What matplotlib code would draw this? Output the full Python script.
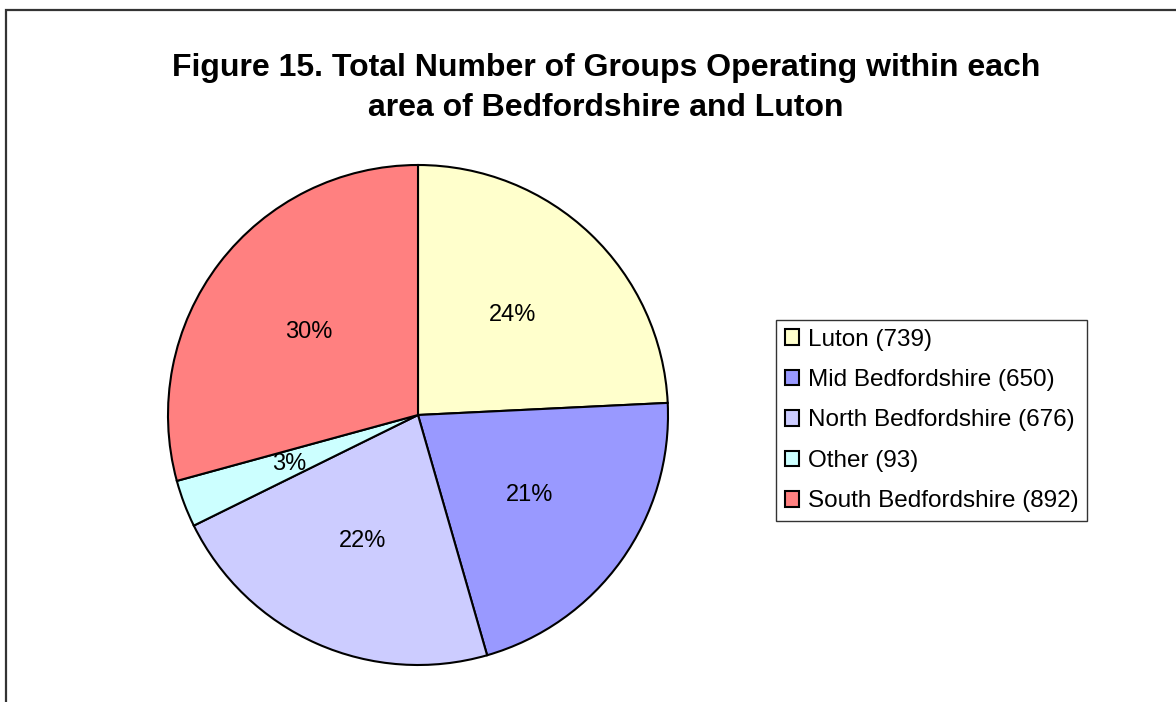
import matplotlib
matplotlib.use('Agg')
import matplotlib.pyplot as plt
from matplotlib.patches import Rectangle

# values
areas = ['Luton', 'Mid Bedfordshire', 'North Bedfordshire', 'Other', 'South Bedfordshire']
groups = [739, 650, 676, 93, 892]
pct_labels = ['24%', '21%', '22%', '3%', '30%']  # as printed on the slices
colors = ['#FFFFCC', '#9999FF', '#CCCCFF', '#CCFFFF', '#FF8080']

plt.rcParams['font.family'] = ['Liberation Sans', 'DejaVu Sans']

W, H = 1176, 702
fig = plt.figure(figsize=(W / 100, H / 100), dpi=100)

# outer frame (runs off the right and bottom edges)
fig.patches.append(Rectangle((6 / W, -0.1), 1.2, 1 - 10 / H + 0.1, transform=fig.transFigure,
                             fill=False, edgecolor='#333333', linewidth=1.6))

# pie axes: centre (418, 415) px, radius 250 px
cx, cy, r = 418, 415, 250
ax = fig.add_axes([(cx - r) / W, (H - cy - r) / H, 2 * r / W, 2 * r / H])

it = iter(pct_labels)
wedges, texts, autotexts = ax.pie(groups, colors=colors, startangle=90, counterclock=False,
                                  autopct=lambda p: next(it), pctdistance=0.55,
                                  wedgeprops=dict(edgecolor='black', linewidth=1.5),
                                  textprops=dict(fontsize=17, color='black'))
ax.set_xlim(-1, 1)
ax.set_ylim(-1, 1)
ax.set_aspect('equal')

fig.text(606 / W, 1 - 68 / H, 'Figure 15. Total Number of Groups Operating within each',
         ha='center', va='center', fontsize=23, fontweight='bold')
fig.text(606 / W, 1 - 108 / H, 'area of Bedfordshire and Luton',
         ha='center', va='center', fontsize=23, fontweight='bold')

leg_labels = [f'{a} ({g})' for a, g in zip(areas, groups)]
leg = fig.legend(wedges, leg_labels, loc='upper left', bbox_to_anchor=(776 / W, 1 - 320 / H),
                 frameon=True, fancybox=False, edgecolor='black', fontsize=17.5,
                 borderaxespad=0, handlelength=0.6, handleheight=0.6, handletextpad=0.35,
                 labelspacing=0.76, borderpad=0.35)
leg.get_frame().set_linewidth(1.0)

fig.savefig('out.png', dpi=100)
